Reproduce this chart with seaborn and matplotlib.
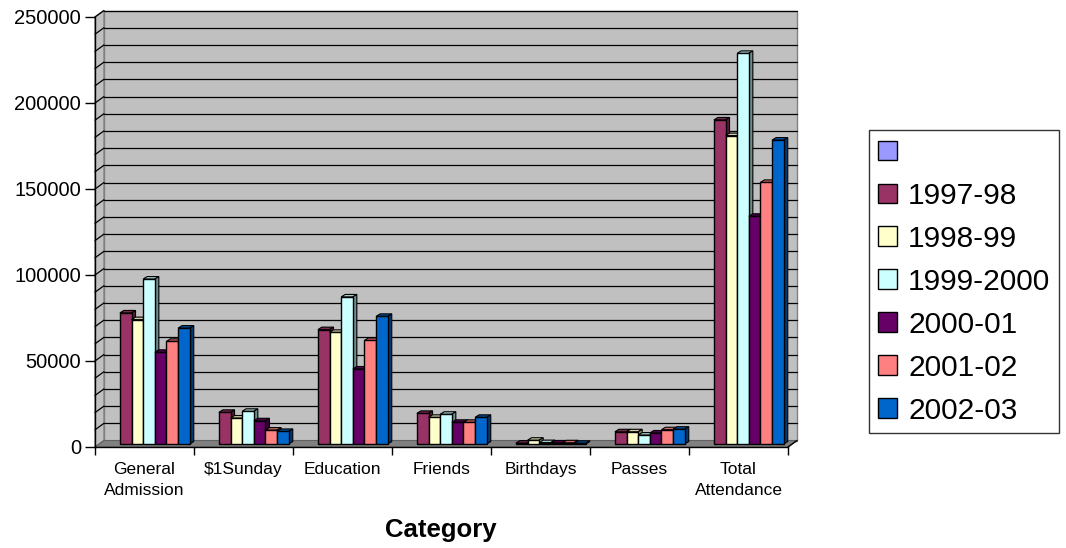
import numpy as np
import pandas as pd
import matplotlib
matplotlib.use("Agg")
import matplotlib.pyplot as plt
import seaborn as sns
from matplotlib.patches import Polygon, Patch
from matplotlib.lines import Line2D
from matplotlib.transforms import IdentityTransform, ScaledTranslation

# ---- data -------------------------------------------------------------
categories = ["General\nAdmission", r"\$1Sunday", "Education", "Friends",
              "Birthdays", "Passes", "Total\nAttendance"]
seasons = [" ", "1997-98", "1998-99", "1999-2000", "2000-01", "2001-02", "2002-03"]

blank_series = [np.nan, np.nan, np.nan, np.nan, np.nan, np.nan, np.nan]
s1997_98 = [76200, 18400, 66500, 17800, 500, 7100, 188400]
s1998_99 = [72300, 15100, 64900, 15500, 2200, 7100, 179300]
s1999_00 = [95900, 19000, 85500, 17300, 800, 5200, 227100]
s2000_01 = [53300, 13500, 43600, 12600, 600, 6400, 132400]
s2001_02 = [59700, 8100, 60200, 12600, 700, 8300, 152100]
s2002_03 = [67400, 7300, 74200, 15500, 400, 8600, 176700]

series = [blank_series, s1997_98, s1998_99, s1999_00, s2000_01, s2001_02, s2002_03]
colors = ["#9999FF", "#993366", "#FFFFCC", "#CCFFFF", "#660066", "#FF8080", "#0066CC"]

y_ticks = [0, 50000, 100000, 150000, 200000, 250000]

rows = []
for name, vals in zip(seasons, series):
    for cat, v in zip(categories, vals):
        rows.append({"category": cat, "season": name, "value": v})
df = pd.DataFrame(rows)

# ---- figure -----------------------------------------------------------
sns.set_theme(style="white")
plt.rcParams["font.family"] = ["Liberation Sans", "DejaVu Sans"]
plt.rcParams["text.color"] = "black"
plt.rcParams["xtick.color"] = "black"
plt.rcParams["ytick.color"] = "black"

DPI = 100
W, H = 1066, 548
fig = plt.figure(figsize=(W / DPI, H / DPI), dpi=DPI)
fig.patch.set_facecolor("white")

X0, X1 = 95, 788        # front plane, pixels from left
YT, YB = 17, 447        # front plane, pixels from top
ax = fig.add_axes([X0 / W, (H - YB) / H, (X1 - X0) / W, (YB - YT) / H])
ax.set_facecolor("none")

sns.barplot(data=df, x="category", y="value", hue="season",
            order=categories, hue_order=seasons, palette=colors,
            width=7 / 8.5, edgecolor="black", linewidth=1.0,
            errorbar=None, legend=False, saturation=1, ax=ax)

ax.set_xlim(-0.5, len(categories) - 0.5)
ax.set_ylim(0, 250000)
ax.set_xlabel("")
ax.set_ylabel("")

# ---- walls and floor (pseudo 3-D) ------------------------------------
WDX, WDY = 9, 6.5       # depth of the chart box, pixels
to_disp = ax.transData.transform
dl, db = to_disp((-0.5, 0))
dr, dt = to_disp((len(categories) - 0.5, 250000))

ident = IdentityTransform()
wall_col, edge_col = "#C0C0C0", "#808080"

back_wall = Polygon([(dl + WDX, db + WDY), (dr + WDX, db + WDY),
                     (dr + WDX, dt + WDY), (dl + WDX, dt + WDY)],
                    closed=True, facecolor=wall_col, edgecolor=edge_col,
                    linewidth=1, transform=ident, zorder=0.2, clip_on=False)
side_wall = Polygon([(dl, db), (dl + WDX, db + WDY), (dl + WDX, dt + WDY), (dl, dt)],
                    closed=True, facecolor=wall_col, edgecolor=edge_col,
                    linewidth=1, transform=ident, zorder=0.2, clip_on=False)
ax.add_patch(back_wall)
ax.add_patch(side_wall)

for v in range(10000, 250001, 10000):
    _, yv = to_disp((0, v))
    ax.add_line(Line2D([dl + WDX, dr + WDX], [yv + WDY, yv + WDY], color="black",
                       linewidth=0.9, transform=ident, zorder=0.3, clip_on=False))
    ax.add_line(Line2D([dl, dl + WDX], [yv, yv + WDY], color="black",
                       linewidth=0.9, transform=ident, zorder=0.3, clip_on=False))

floor = Polygon([(dl, db), (dr, db), (dr + WDX, db + WDY), (dl + WDX, db + WDY)],
                closed=True, facecolor="#808080", edgecolor="#606060",
                linewidth=0.8, transform=ident, zorder=0.4, clip_on=False)
ax.add_patch(floor)
ax.add_line(Line2D([dr, dr + WDX], [db, db + WDY], color="black", linewidth=1,
                   transform=ident, zorder=0.5, clip_on=False))

# ---- bar depth: shift bars into the box and add top/side faces --------
BDX, BDY = 4.5, 3.0       # bar position inside the box
FDX, FDY = 4.0, 2.5       # bar depth


def shade(c, f):
    r, g, b = matplotlib.colors.to_rgb(c)
    return (r * f, g * f, b * f)


bars = [p for p in ax.patches if p not in (back_wall, side_wall, floor)]
bars = [p for p in bars if np.isfinite(p.get_height()) and p.get_height() > 0]
bars.sort(key=lambda p: p.get_x())
shift = ScaledTranslation(BDX / DPI, BDY / DPI, fig.dpi_scale_trans)
for k, p in enumerate(bars):
    tr = ax.transData + shift
    p.set_transform(tr)
    base = 1 + 3 * k * 0.001
    x0, y0 = p.get_x(), p.get_y()
    x1, y1 = x0 + p.get_width(), y0 + p.get_height()
    (px0, py0), (px1, py1) = tr.transform([(x0, y0), (x1, y1)])
    fc = p.get_facecolor()
    top = Polygon([(px0, py1), (px1, py1), (px1 + FDX, py1 + FDY), (px0 + FDX, py1 + FDY)],
                  closed=True, facecolor=shade(fc, 0.8), edgecolor="black",
                  linewidth=0.8, transform=ident, zorder=base, clip_on=False)
    side = Polygon([(px1, py0), (px1 + FDX, py0 + FDY), (px1 + FDX, py1 + FDY), (px1, py1)],
                   closed=True, facecolor=shade(fc, 0.55), edgecolor="black",
                   linewidth=0.8, transform=ident, zorder=base, clip_on=False)
    ax.add_patch(top)
    ax.add_patch(side)
    p.set_zorder(base + 0.002)

# ---- axes, ticks, labels ---------------------------------------------
for s in ("top", "right"):
    ax.spines[s].set_visible(False)
for s in ("left", "bottom"):
    ax.spines[s].set_color("black")
    ax.spines[s].set_linewidth(1)
    ax.spines[s].set_zorder(5)

ax.set_yticks(y_ticks)
ax.set_yticklabels([str(t) for t in y_ticks], fontsize=14.5)
ax.tick_params(axis="y", which="major", direction="out", length=7, width=1,
               color="black", pad=3, left=True, labelcolor="black")

boundaries = np.arange(-0.5, len(categories))
ax.set_xticks(boundaries, minor=False)
ax.set_xticklabels([""] * len(boundaries))
ax.set_xticks(np.arange(len(categories)), minor=True)
ax.set_xticklabels(categories, minor=True, fontsize=12.5, linespacing=1.5)
ax.tick_params(axis="x", which="minor", length=0, pad=11, labelcolor="black")
ax.tick_params(axis="x", which="major", direction="out", length=6, width=1,
               color="black", bottom=True)
ax.grid(False)

fig.text(441 / W, 1 - 537.5 / H, "Category", ha="center", va="baseline",
         fontsize=18.5, fontweight="bold", color="black")

# ---- legend ------------------------------------------------------------
handles = [Patch(facecolor=c, edgecolor="black", linewidth=1) for c in colors]
leg = fig.legend(handles, seasons, loc="upper left",
                 bbox_to_anchor=(869 / W, 1 - 130 / H),
                 fontsize=21.5, frameon=True, fancybox=False, shadow=False,
                 handlelength=0.64, handleheight=0.64, handletextpad=0.37,
                 labelspacing=0.5, borderpad=0.3, borderaxespad=0,
                 labelcolor="black")
leg.get_frame().set_edgecolor("black")
leg.get_frame().set_linewidth(1)

fig.savefig("out.png", dpi=DPI, facecolor="white")
